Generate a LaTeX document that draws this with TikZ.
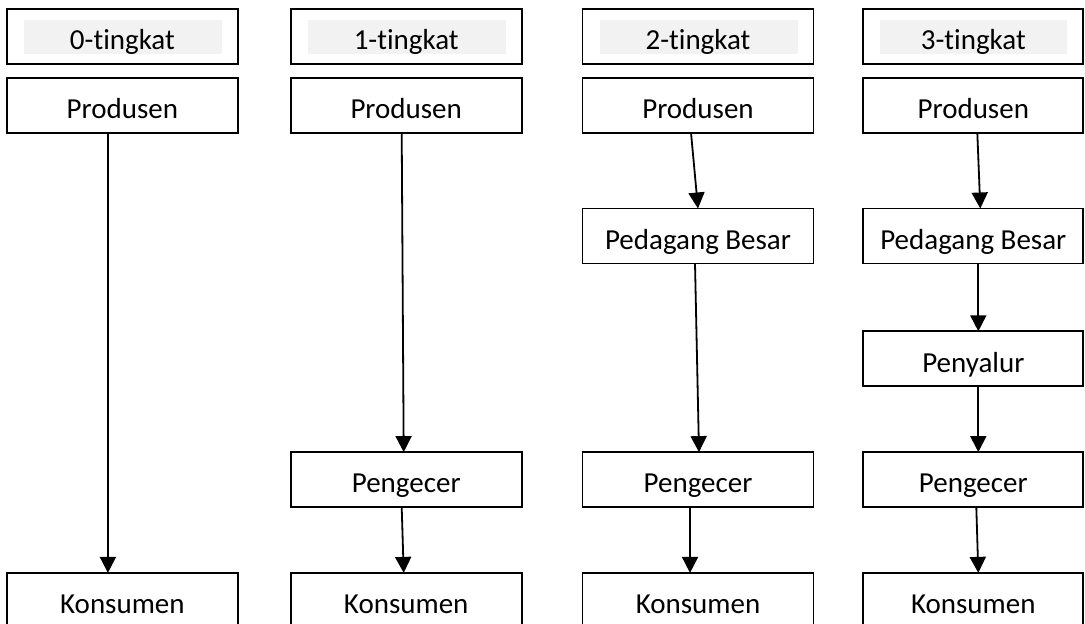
\documentclass[tikz,border=0pt]{standalone}
\usepackage{fontspec}
\setmainfont{Carlito}[Ligatures={NoCommon,NoContextual}]
\usepackage{tikz}
\usetikzlibrary{matrix,arrows.meta}

\definecolor{hdrgrey}{RGB}{242,242,242}
\tikzset{
  box/.style={draw, line width=0.9pt, minimum width=115.5pt, minimum height=27.5pt, inner sep=2pt,
    text height=14pt, text depth=0.8pt, font=\fontsize{14.5}{17}\selectfont},
  hdr/.style={path picture={\fill[hdrgrey] ([xshift=8.5pt,yshift=-5.5pt]path picture bounding box.north west) rectangle ([xshift=-8pt,yshift=5pt]path picture bounding box.south east);}},
  flow/.style={line width=0.9pt, -{Triangle[width=8pt,length=8pt]}}
}

\begin{document}
\begin{tikzpicture}
  \useasboundingbox (0,0) rectangle (542.5pt,-312pt);
  \matrix (m) [matrix of nodes, nodes={box}, row sep=0pt, column sep=25.5pt,
    inner sep=0pt, outer sep=0pt, anchor=north west,
    column 4/.style={nodes={minimum width=110pt}}] at (3pt,-4pt)
  {
    |[hdr]| 0-tingkat & |[hdr]| 1-tingkat &[4pt] |[hdr]| 2-tingkat &[-1.5pt] |[hdr]| 3-tingkat \\[6pt]
    Produsen & Produsen & Produsen & Produsen \\[37pt]
     & & Pedagang Besar & Pedagang Besar \\[33pt]
     & & & Penyalur \\[32pt]
     & Pengecer & Pengecer & Pengecer \\[32pt]
    Konsumen & Konsumen & Konsumen & Konsumen \\
  };
  % 0-tingkat
  \draw[flow] ([xshift=-7.25pt]m-2-1.south) -- ([xshift=-7.25pt]m-6-1.north);
  % 1-tingkat
  \draw[flow] ([xshift=-2.25pt]m-2-2.south) -- ([xshift=-1.25pt]m-5-2.north);
  \draw[flow] ([xshift=-2.25pt]m-5-2.south) -- ([xshift=-1.25pt]m-6-2.north);
  % 2-tingkat
  \draw[flow] ([xshift=-3.5pt]m-2-3.south) -- (m-3-3.north);
  \draw[flow] ([xshift=-1.5pt]m-3-3.south) -- ([xshift=0.5pt]m-5-3.north);
  \draw[flow] ([xshift=-4pt]m-5-3.south) -- ([xshift=-4pt]m-6-3.north);
  % 3-tingkat
  \draw[flow] ([xshift=2pt]m-2-4.south) -- ([xshift=3.5pt]m-3-4.north);
  \draw[flow] ([xshift=2.5pt]m-3-4.south) -- ([xshift=2.5pt]m-4-4.north);
  \draw[flow] ([xshift=2.5pt]m-4-4.south) -- ([xshift=2.5pt]m-5-4.north);
  \draw[flow] ([xshift=1.5pt]m-5-4.south) -- ([xshift=2.5pt]m-6-4.north);
\end{tikzpicture}
\end{document}
